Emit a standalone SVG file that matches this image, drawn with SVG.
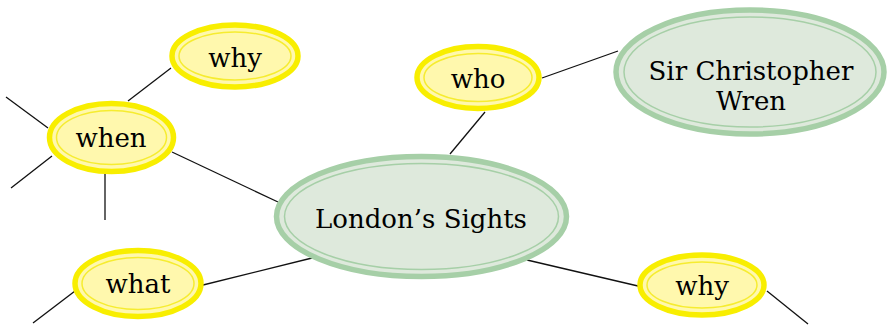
<svg xmlns="http://www.w3.org/2000/svg" width="889" height="326" viewBox="0 0 889 326">
<style>
.y-out{fill:#fff8ad;stroke:#f8ee00;stroke-width:5.5}
.y-in{fill:none;stroke:#f6ec30;stroke-width:1.5}
.g-out{fill:#dee9dc;stroke:#a6cfa7;stroke-width:5.5}
.g-in{fill:none;stroke:#a6cfa7;stroke-width:1.5}
text{font-family:"DejaVu Serif","Liberation Serif",serif;font-size:26px;fill:#000;text-anchor:middle}
.c line{stroke:#111;stroke-width:1.3}
</style>
<rect width="889" height="326" fill="#fff"/>
<g class="c" id="connectors">
<line x1="171" y1="68" x2="128" y2="101"/>
<line x1="6" y1="97" x2="48" y2="128"/>
<line x1="11" y1="188" x2="52" y2="156"/>
<line x1="105" y1="173" x2="105" y2="220"/>
<line x1="172" y1="152" x2="278" y2="202"/>
<line x1="203" y1="285" x2="312" y2="258"/>
<line x1="33" y1="323" x2="75" y2="291"/>
<line x1="485" y1="112" x2="450" y2="154"/>
<line x1="542" y1="78" x2="618" y2="51"/>
<line x1="527" y1="260" x2="638" y2="286"/>
<line x1="767" y1="291" x2="808" y2="324"/>
</g>
<g id="london">
<ellipse class="g-out" cx="421.5" cy="216.5" rx="145" ry="60"/>
<ellipse class="g-in" cx="421.5" cy="216.5" rx="137" ry="53"/>
<text x="421" y="228">London’s Sights</text>
</g>
<g id="wren">
<ellipse class="g-out" cx="750" cy="72" rx="134" ry="62"/>
<ellipse class="g-in" cx="750" cy="72" rx="126" ry="55"/>
<text x="751" y="80">Sir Christopher</text>
<text x="751" y="110">Wren</text>
</g>
<g id="who">
<ellipse class="y-out" cx="478" cy="77.5" rx="61" ry="31"/>
<ellipse class="y-in" cx="478" cy="77.5" rx="54" ry="24"/>
<text x="478" y="88">who</text>
</g>
<g id="when">
<ellipse class="y-out" cx="111.5" cy="137.5" rx="62" ry="34"/>
<ellipse class="y-in" cx="111.5" cy="137.5" rx="55" ry="27"/>
<text x="111" y="147">when</text>
</g>
<g id="why-top">
<ellipse class="y-out" cx="235" cy="56" rx="63" ry="31"/>
<ellipse class="y-in" cx="235" cy="56" rx="56" ry="24"/>
<text x="235" y="67">why</text>
</g>
<g id="what">
<ellipse class="y-out" cx="138" cy="283.5" rx="63" ry="33"/>
<ellipse class="y-in" cx="138" cy="283.5" rx="56" ry="26"/>
<text x="138" y="293">what</text>
</g>
<g id="why-bottom">
<ellipse class="y-out" cx="702" cy="285" rx="62" ry="30"/>
<ellipse class="y-in" cx="702" cy="285" rx="55" ry="23"/>
<text x="702" y="295">why</text>
</g>
</svg>
